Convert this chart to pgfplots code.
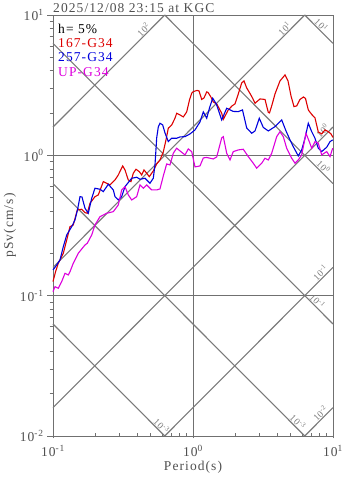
\documentclass[border=0pt]{standalone}
\usepackage{fontspec}
\setmainfont{Liberation Serif}[LetterSpace=8]
\usepackage{pgfplots}
\pgfplotsset{compat=1.18}
\definecolor{gcol}{HTML}{707070}
\definecolor{dcol}{HTML}{7A7A7A}
\definecolor{txt}{HTML}{505050}
\definecolor{cred}{HTML}{DD0000}
\definecolor{cblue}{HTML}{0000DD}
\definecolor{cmag}{HTML}{DD00DD}
\newcommand{\sz}{\fontsize{13.5bp}{16bp}\selectfont}
\newcommand{\dz}{\fontsize{9.5bp}{11bp}\selectfont}
\tikzset{
  diag/.style={dcol, line width=0.7bp},
  dlab/.style={font=\dz, text=dcol, inner sep=0.8bp},
}
\begin{document}
\begin{tikzpicture}
\begin{axis}[
  scale only axis, width=280bp, height=421bp, clip=false,
  xmode=log, ymode=log,
  xmin=0.1, xmax=10, ymin=0.01, ymax=10,
  xtick={0.1,1,10},
  xticklabels={10\textsuperscript{-1},10\textsuperscript{0},10\textsuperscript{1}},
  ytick={0.01,0.1,1,10},
  yticklabels={10\textsuperscript{-2},10\textsuperscript{-1},10\textsuperscript{0},10\textsuperscript{1}},
  minor xtick={0.2,0.3,0.4,0.5,0.6,0.7,0.8,0.9,2,3,4,5,6,7,8,9},
  minor ytick={0.02,0.03,0.04,0.05,0.06,0.07,0.08,0.09,0.2,0.3,0.4,0.5,0.6,0.7,0.8,0.9,2,3,4,5,6,7,8,9},
  xtick pos=bottom, ytick pos=left,
  tick align=outside, major tick length=6bp, minor tick length=3.5bp,
  tick style={gcol, line width=0.8bp},
  x tick style={yshift=3.5bp},
  xmajorgrids, ymajorgrids,
  grid style={gcol, line width=0.9bp},
  axis line style={gcol, line width=0.9bp},
  tick label style={font=\sz, text=txt},
  xlabel={Period(s)}, ylabel={pSv(cm/s)},
  label style={font=\sz, text=txt},
  xlabel style={at={(axis description cs:0.5,-0.0736)}, anchor=center},
  ylabel style={at={(axis description cs:-0.154,0.5)}, anchor=center},
  every axis plot post/.append style={line width=1.1bp},
]
% constant acceleration lines (cm/s^2)
\addplot[diag] coordinates {(0.1,1.5915) (0.62832,10)};
\addplot[diag] coordinates {(0.1,0.15915) (6.2832,10)};
\addplot[diag] coordinates {(0.1,0.015915) (10,1.5915)};
\addplot[diag] coordinates {(0.62832,0.01) (10,0.15915)};
\addplot[diag] coordinates {(6.2832,0.01) (10,0.015915)};
% constant displacement lines (cm)
\addplot[diag] coordinates {(6.2832,10) (10,6.2832)};
\addplot[diag] coordinates {(0.62832,10) (10,0.62832)};
\addplot[diag] coordinates {(0.1,6.2832) (10,0.062832)};
\addplot[diag] coordinates {(0.1,0.62832) (6.2832,0.01)};
\addplot[diag] coordinates {(0.1,0.062832) (0.62832,0.01)};

\node[dlab, rotate=45, anchor=south] at (axis cs:0.469,7.46) {10\textsuperscript{2}};
\node[dlab, rotate=45, anchor=south] at (axis cs:4.77,7.59) {10\textsuperscript{1}};
\node[dlab, rotate=45, anchor=south] at (axis cs:8.9,1.42) {10\textsuperscript{0}};
\node[dlab, rotate=45, anchor=south] at (axis cs:8.6,0.137) {10\textsuperscript{-1}};
\node[dlab, rotate=45, anchor=south] at (axis cs:8.6,0.0137) {10\textsuperscript{-2}};
\node[dlab, rotate=-45, anchor=south] at (axis cs:7.8,8.05) {10\textsuperscript{1}};
\node[dlab, rotate=-45, anchor=south] at (axis cs:8.07,0.778) {10\textsuperscript{0}};
\node[dlab, rotate=-45, anchor=south] at (axis cs:7.3,0.0861) {10\textsuperscript{-1}};
\node[dlab, rotate=-45, anchor=south] at (axis cs:5.3,0.01185) {10\textsuperscript{-3}};
\node[dlab, rotate=-45, anchor=south] at (axis cs:0.5623,0.01117) {10\textsuperscript{-3}};

% 167-G34
\addplot[cred] coordinates {
(0.1,0.126) (0.1042,0.1476) (0.1091,0.1702) (0.1185,0.2006) (0.1253,0.2495)
(0.1323,0.3103) (0.1396,0.319) (0.1491,0.408) (0.1603,0.4129) (0.1693,0.3905)
(0.1758,0.3867) (0.1838,0.4557) (0.1995,0.5076) (0.2106,0.522) (0.2287,0.6496)
(0.2419,0.6327) (0.2553,0.6152) (0.2773,0.6678) (0.2927,0.7251) (0.3147,0.8405)
(0.3268,0.7867) (0.3451,0.6678) (0.3607,0.6496) (0.3746,0.7455) (0.3916,0.7958)
(0.4135,0.7652) (0.4301,0.7251) (0.4467,0.7867) (0.4669,0.7455) (0.4873,0.7051)
(0.5204,0.7741) (0.5504,0.8684) (0.5811,0.9273) (0.6135,1.057) (0.6414,1.288)
(0.6662,1.561) (0.7045,1.647) (0.7437,1.838) (0.7648,1.996) (0.8074,1.941)
(0.8524,1.878) (0.9016,2.039) (0.9441,2.482) (0.9788,2.771) (1.005,2.844)
(1.068,2.901) (1.104,2.877) (1.154,2.502) (1.198,2.564) (1.253,2.831)
(1.280,2.808) (1.338,2.62) (1.396,2.402) (1.477,2.325) (1.603,1.996)
(1.646,1.803) (1.741,2.006) (1.787,2.107) (1.899,2.249) (1.995,2.325)
(2.096,2.695) (2.228,3.281) (2.313,3.391) (2.418,3.022) (2.553,2.762)
(2.661,2.564) (2.773,2.351) (3.010,2.523) (3.268,2.502) (3.451,2.022)
(3.519,2.006) (3.667,2.287) (3.853,2.739) (4.182,3.391) (4.541,3.741)
(4.771,3.391) (5.012,2.651) (5.265,2.224) (5.504,2.249) (5.811,2.502)
(6.155,2.607) (6.361,2.544) (6.662,2.107) (7.045,1.957) (7.437,1.848)
(7.852,1.468) (8.304,1.421) (8.769,1.518) (9.256,1.475) (9.676,1.421)
(10,1.342)};
% 257-G34
\addplot[cblue] coordinates {
(0.1,0.1525) (0.1063,0.1655) (0.1122,0.1797) (0.1185,0.2235) (0.1253,0.2707)
(0.1360,0.3103) (0.1436,0.3464) (0.1496,0.408) (0.1559,0.5076) (0.1611,0.5051)
(0.1693,0.4197) (0.1787,0.3867) (0.1890,0.4944) (0.1995,0.5829) (0.2166,0.5733)
(0.2287,0.5512) (0.2483,0.6223) (0.2696,0.5668) (0.2773,0.5076) (0.2927,0.4809)
(0.3095,0.5076) (0.3268,0.5984) (0.3649,0.6867) (0.3962,0.6980) (0.4182,0.6754)
(0.4541,0.6867) (0.4931,0.6327) (0.5204,0.6867) (0.5352,0.8545) (0.5504,1.330)
(0.5651,1.594) (0.5811,1.693) (0.6075,1.647) (0.6310,1.444) (0.6662,1.252)
(0.7045,1.324) (0.7648,1.324) (0.8074,1.352) (0.8769,1.359) (0.9519,1.421)
(1.0334,1.518) (1.122,1.730) (1.185,2.039) (1.253,1.838) (1.312,2.177)
(1.383,2.553) (1.467,2.325) (1.603,1.788) (1.741,2.166) (1.940,2.056)
(2.106,2.049) (2.257,2.107) (2.418,1.568) (2.627,1.437) (2.773,1.492)
(2.975,1.838) (3.178,1.581) (3.451,1.492) (3.853,1.602) (4.301,1.788)
(4.617,1.492) (4.931,1.288) (5.204,1.153) (5.651,0.990) (5.975,1.093)
(6.310,1.324) (6.662,1.693) (7.045,1.475) (7.437,1.324) (7.852,1.124)
(8.304,1.063) (9.016,1.142) (9.519,1.252) (9.95,1.288)};
% UP-G34
\addplot[cmag] coordinates {
(0.1,0.1068) (0.1033,0.1159) (0.1091,0.1129) (0.1154,0.126) (0.1218,0.1444)
(0.1286,0.1404) (0.1323,0.1483) (0.1396,0.1702) (0.1516,0.2006) (0.1693,0.2298)
(0.1758,0.2363) (0.1890,0.2707) (0.1995,0.319) (0.2166,0.3657) (0.2419,0.3867)
(0.2696,0.3969) (0.2927,0.4432) (0.3095,0.5668) (0.3268,0.5984) (0.3451,0.522)
(0.3649,0.4809) (0.3962,0.5076) (0.4182,0.6152) (0.4416,0.5829) (0.4669,0.6152)
(0.5070,0.5668) (0.5504,0.5668) (0.5811,0.5762) (0.6135,0.7132) (0.6488,0.8684)
(0.6848,0.8545) (0.7234,1.035) (0.7648,1.124) (0.8074,1.075) (0.8769,1.007)
(0.9257,1.111) (0.9788,1.063) (1.0334,0.8268) (1.122,0.8405) (1.185,0.9583)
(1.253,0.9661) (1.3225,0.9535) (1.396,0.9425) (1.477,0.9741) (1.603,1.330)
(1.646,1.359) (1.741,1.035) (1.838,0.9273) (1.940,1.063) (2.106,1.093)
(2.287,1.105) (2.483,0.979) (2.696,0.8785) (2.851,0.809) (3.095,0.8785)
(3.268,0.9535) (3.451,0.9273) (3.649,1.035) (3.962,1.359) (4.182,1.475)
(4.416,1.359) (4.669,1.124) (5.070,0.9535) (5.352,0.8785) (5.651,0.9273)
(5.975,1.007) (6.414,1.437) (6.770,1.252) (7.045,1.124) (7.437,1.252)
(7.852,1.220) (8.304,1.007) (9.016,1.063) (9.519,0.979) (9.95,1.124)};

\node[anchor=base west, font=\sz, text=txt, inner sep=0pt, yshift=2.3bp] at (rel axis cs:0,1) {2025/12/08 23:15 at KGC};
\node[anchor=base west, font=\sz, text=black, inner sep=0pt] at (rel axis cs:0.018,0.9572) {h= 5\%};
\node[anchor=base west, font=\sz, text=cred, inner sep=0pt] at (rel axis cs:0.018,0.9228) {167-G34};
\node[anchor=base west, font=\sz, text=cblue, inner sep=0pt] at (rel axis cs:0.018,0.8884) {257-G34};
\node[anchor=base west, font=\sz, text=cmag, inner sep=0pt] at (rel axis cs:0.018,0.8539) {UP-G34};
\coordinate (sw) at (rel axis cs:0,0);
\coordinate (ne) at (rel axis cs:1,1);
\end{axis}
\pgfresetboundingbox
\path ([xshift=-53bp,yshift=-42bp]sw) rectangle ([xshift=14bp,yshift=15bp]ne);
\end{tikzpicture}
\end{document}
